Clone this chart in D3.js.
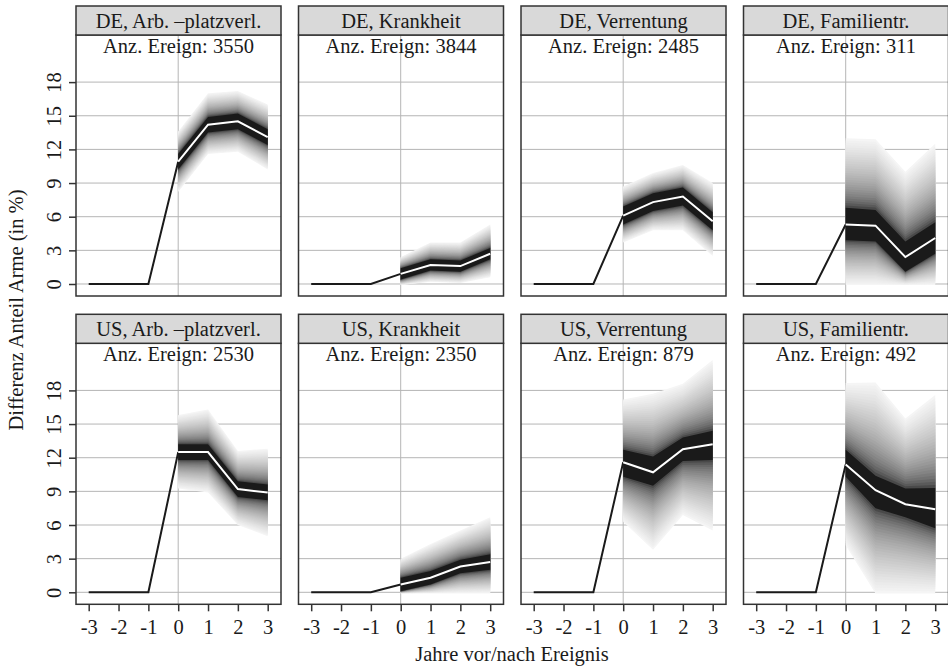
<!DOCTYPE html>
<html>
<head>
<meta charset="utf-8">
<script src="https://cdn.jsdelivr.net/npm/d3@7"></script>
<style>
  body { margin: 0; background: #fff; }
  svg text { font-family: "Liberation Serif", "DejaVu Serif", serif; fill: #1a1a1a; }
</style>
</head>
<body>
<div id="chart"></div>
<script>
// ---- data ----
const years = [-3, -2, -1, 0, 1, 2, 3];
const fanYears = [0, 1, 2, 3];
const yTicks = [0, 3, 6, 9, 12, 15, 18];
const xTicks = [-3, -2, -1, 0, 1, 2, 3];

const panelTitles = [
    "DE, Arb. \u2013platzverl.", "DE, Krankheit", "DE, Verrentung", "DE, Familientr.",
    "US, Arb. \u2013platzverl.", "US, Krankheit", "US, Verrentung", "US, Familientr."
];
const eventCounts = [3550, 3844, 2485, 311, 2530, 2350, 879, 492];

// values for years -3, -2, -1 (before the event)
const preValues = [
    [0, 0, 0], [0, 0, 0], [0, 0, 0], [0, 0, 0],
    [0, 0, 0], [0, 0, 0], [0, 0, 0], [0, 0, 0]
];
// central estimate for years 0..3
const midValues = [
    [10.9, 14.2, 14.5, 13.1],
    [0.9, 1.7, 1.6, 2.7],
    [6.1, 7.3, 7.8, 5.6],
    [5.3, 5.2, 2.4, 4.1],
    [12.5, 12.5, 9.2, 8.9],
    [0.7, 1.3, 2.3, 2.7],
    [11.6, 10.7, 12.75, 13.2],
    [11.4, 9.1, 7.85, 7.4]
];
// outer fan bounds
const upperValues = [
    [13.6, 17.0, 17.2, 16.0],
    [2.4, 3.7, 3.7, 5.3],
    [8.7, 9.9, 10.6, 9.0],
    [13.0, 12.9, 10.0, 12.5],
    [15.8, 16.3, 12.6, 12.8],
    [3.0, 4.3, 5.5, 6.7],
    [17.2, 17.7, 18.6, 20.7],
    [18.65, 18.7, 15.5, 17.6]
];
const lowerValues = [
    [8.2, 11.6, 11.8, 10.2],
    [-0.1, 0.2, 0.1, 0.6],
    [3.7, 4.8, 4.8, 2.5],
    [-0.1, -0.1, -0.1, -0.1],
    [9.25, 8.9, 6.0, 5.0],
    [-0.1, -0.1, -0.1, -0.1],
    [6.3, 3.8, 6.9, 5.5],
    [4.2, -0.1, -0.1, -0.1]
];
// dark core band
const coreUpper = [
    [11.6, 14.9, 15.2, 13.8],
    [1.4, 2.2, 2.1, 3.2],
    [6.9, 8.1, 8.6, 6.4],
    [6.8, 6.6, 3.8, 5.5],
    [13.2, 13.2, 9.9, 9.6],
    [1.3, 1.9, 2.9, 3.4],
    [12.7, 12.1, 13.8, 14.4],
    [12.7, 10.4, 9.25, 9.3]
];
const coreLower = [
    [10.2, 13.5, 13.8, 12.4],
    [0.4, 1.2, 1.1, 2.2],
    [5.3, 6.5, 7.0, 4.8],
    [3.9, 3.8, 1.1, 2.7],
    [11.8, 11.8, 8.5, 8.2],
    [0.1, 0.7, 1.7, 2.0],
    [10.3, 9.5, 11.7, 11.8],
    [10.3, 7.5, 6.7, 5.7]
];

// ---- layout ----
const width = 948, height = 669;
const panelW = 205, pitch = 222.5, left0 = 76;
const rowTop = [6, 314.3];
const stripH = 29, plotH = 261;
const nBands = 30;
const fs = 20.5;
const serif = "Liberation Serif, DejaVu Serif, serif";

const svg = d3.select("#chart").append("svg")
    .attr("width", width)
    .attr("height", height)
    .attr("font-family", serif);

svg.append("rect").attr("width", width).attr("height", height).attr("fill", "#fff");

const grey = t => d3.rgb(255 * t, 255 * t, 255 * t).toString();

panelTitles.forEach(function (title, i) {
    const col = i % 4, row = Math.floor(i / 4);
    const px = left0 + col * pitch;
    const stripTop = rowTop[row];
    const plotTop = stripTop + stripH;
    const plotBottom = plotTop + plotH;

    const x = d3.scaleLinear().domain([-3, 3]).range([px + 12.7, px + 191.7]);
    const y = d3.scaleLinear().domain([-1.07, 22.2]).range([plotBottom, plotTop]);

    const g = svg.append("g").attr("class", "panel");

    const clipId = "clip" + i;
    g.append("clipPath").attr("id", clipId)
        .append("rect")
        .attr("x", px).attr("y", plotTop)
        .attr("width", panelW).attr("height", plotH);

    // grid
    g.selectAll(".hgrid").data(yTicks).enter().append("line")
        .attr("x1", px).attr("x2", px + panelW)
        .attr("y1", d => y(d)).attr("y2", d => y(d))
        .attr("stroke", "#b5b5b5").attr("stroke-width", 1);
    g.append("line")
        .attr("x1", x(0)).attr("x2", x(0))
        .attr("y1", plotTop).attr("y2", plotBottom)
        .attr("stroke", "#b5b5b5").attr("stroke-width", 1);

    // fan
    const fan = g.append("g").attr("clip-path", "url(#" + clipId + ")");
    const rows = fanYears.map((yr, k) => ({
        yr: yr,
        mid: midValues[i][k],
        hi: upperValues[i][k], lo: lowerValues[i][k],
        chi: coreUpper[i][k], clo: coreLower[i][k]
    }));
    for (let b = nBands; b >= 1; b--) {
        const d = b / nBands;
        const area = d3.area()
            .x(r => x(r.yr))
            .y0(r => y(r.clo + (r.lo - r.clo) * d))
            .y1(r => y(r.chi + (r.hi - r.chi) * d));
        fan.append("path")
            .attr("d", area(rows))
            .attr("fill", grey(0.1 + 0.86 * Math.pow(d, 0.45)));
    }
    fan.append("path")
        .attr("d", d3.area().x(r => x(r.yr)).y0(r => y(r.clo)).y1(r => y(r.chi))(rows))
        .attr("fill", "#1a1a1a");

    // lines
    const preLine = years.slice(0, 4).map((yr, k) => [yr, k < 3 ? preValues[i][k] : midValues[i][0]]);
    const line = d3.line().x(p => x(p[0])).y(p => y(p[1]));
    g.append("path")
        .attr("d", line(preLine))
        .attr("fill", "none").attr("stroke", "#1a1a1a").attr("stroke-width", 2);
    g.append("path")
        .attr("d", line(fanYears.map((yr, k) => [yr, midValues[i][k]])))
        .attr("fill", "none").attr("stroke", "#fff").attr("stroke-width", 2);

    // border + strip
    g.append("rect")
        .attr("x", px).attr("y", plotTop)
        .attr("width", panelW).attr("height", plotH)
        .attr("fill", "none").attr("stroke", "#333").attr("stroke-width", 1.5);
    g.append("rect")
        .attr("x", px).attr("y", stripTop)
        .attr("width", panelW).attr("height", stripH)
        .attr("fill", "#d9d9d9").attr("stroke", "#333").attr("stroke-width", 1.5);
    g.append("text")
        .attr("x", px + panelW / 2).attr("y", stripTop + stripH / 2 + 7)
        .attr("text-anchor", "middle").attr("font-size", fs)
        .text(title);
    g.append("text")
        .attr("x", px + panelW / 2).attr("y", plotTop + 18)
        .attr("text-anchor", "middle").attr("font-size", fs)
        .text("Anz. Ereign: " + eventCounts[i]);

    // axes
    if (col === 0) {
        const ax = g.append("g")
            .attr("transform", "translate(" + px + ",0)")
            .call(d3.axisLeft(y).tickValues(yTicks).tickSize(7).tickFormat(d => String(d)));
        ax.attr("font-family", serif);
        ax.select(".domain").remove();
        ax.selectAll(".tick line").attr("stroke", "#333").attr("stroke-width", 1.5);
        ax.selectAll(".tick text")
            .attr("font-size", fs)
            .attr("fill", "#1a1a1a")
            .attr("text-anchor", "middle")
            .attr("dy", "0.35em")
            .attr("x", 0).attr("y", 0)
            .attr("transform", "translate(-22,0) rotate(-90)");
    }
    if (row === 1) {
        const ax = g.append("g")
            .attr("transform", "translate(0," + plotBottom + ")")
            .call(d3.axisBottom(x).tickValues(xTicks).tickSize(7).tickPadding(8)
                .tickFormat(d => String(d)));
        ax.attr("font-family", serif);
        ax.select(".domain").remove();
        ax.selectAll(".tick line").attr("stroke", "#333").attr("stroke-width", 1.5);
        ax.selectAll(".tick text")
            .attr("font-size", fs)
            .attr("fill", "#1a1a1a");
    }
});

svg.append("text")
    .attr("x", 512).attr("y", 661)
    .attr("text-anchor", "middle").attr("font-size", fs)
    .text("Jahre vor/nach Ereignis");
svg.append("text")
    .attr("transform", "translate(23,310) rotate(-90)")
    .attr("text-anchor", "middle").attr("font-size", fs)
    .text("Differenz Anteil Arme (in %)");
</script>
</body>
</html>
